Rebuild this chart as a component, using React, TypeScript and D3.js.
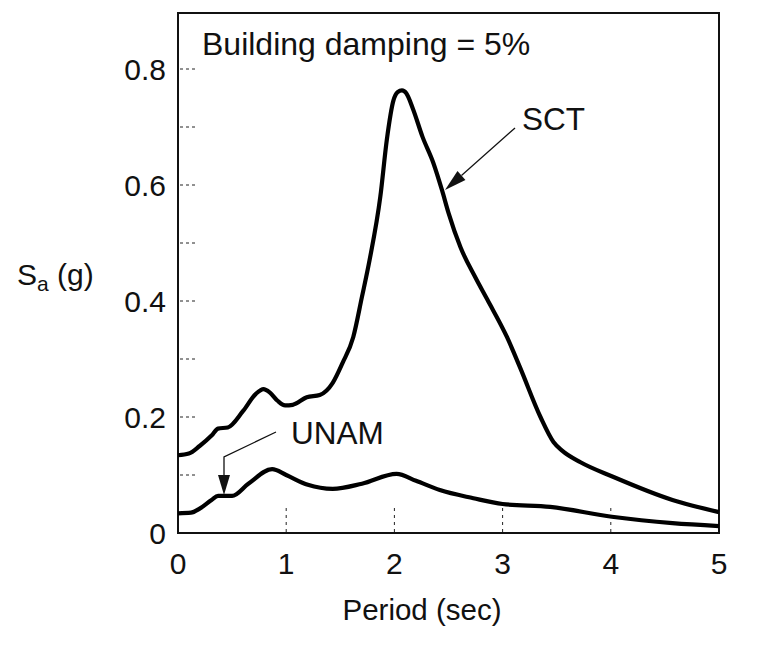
import React from "react";
import * as d3 from "d3";

const sctPeriod = [0, 0.1, 0.2, 0.31, 0.37, 0.46, 0.6, 0.72, 0.79, 0.85, 0.92, 0.99, 1.06, 1.19, 1.31, 1.43, 1.52, 1.62, 1.7, 1.77, 1.87, 1.93, 1.99, 2.03, 2.07, 2.11, 2.17, 2.26, 2.36, 2.44, 2.5, 2.61, 2.75, 2.86, 3.04, 3.16, 3.35, 3.47, 3.55, 3.72, 4.02, 4.57, 5];
const sctSa = [0.134, 0.137, 0.15, 0.168, 0.18, 0.182, 0.21, 0.24, 0.248, 0.242, 0.228, 0.22, 0.221, 0.234, 0.238, 0.259, 0.293, 0.338, 0.407, 0.47, 0.58, 0.678, 0.745, 0.76, 0.763, 0.758, 0.732, 0.683, 0.638, 0.591, 0.552, 0.493, 0.44, 0.402, 0.338, 0.286, 0.2, 0.157, 0.142, 0.122, 0.097, 0.057, 0.036];

const unamPeriod = [0, 0.12, 0.2, 0.31, 0.37, 0.5, 0.65, 0.87, 1.0, 1.2, 1.43, 1.7, 2.02, 2.2, 2.42, 2.73, 3.0, 3.44, 4.01, 4.57, 5];
const unamSa = [0.034, 0.035, 0.042, 0.057, 0.064, 0.064, 0.085, 0.11, 0.1, 0.083, 0.076, 0.085, 0.102, 0.09, 0.074, 0.06, 0.05, 0.045, 0.028, 0.017, 0.012];

const xTicks = [0, 1, 2, 3, 4, 5];
const xInnerTicks = [1, 2, 3, 4];
const yTicks = [0, 0.2, 0.4, 0.6, 0.8];
const yMinorTicks = [0.1, 0.2, 0.3, 0.4, 0.5, 0.6, 0.7, 0.8];

const FONT = "'Liberation Sans', Arial, Helvetica, sans-serif";

export default function App() {
  const left = 178, right = 719, top = 13, bottom = 533;
  const x = d3.scaleLinear().domain([0, 5]).range([left, right]);
  const y = d3.scaleLinear().domain([0, 0.8]).range([bottom, 69]);

  const line = d3
    .line<[number, number]>()
    .x((d) => x(d[0]))
    .y((d) => y(d[1]))
    .curve(d3.curveMonotoneX);

  const sct: [number, number][] = sctPeriod.map((p, i) => [p, sctSa[i]]);
  const unam: [number, number][] = unamPeriod.map((p, i) => [p, unamSa[i]]);

  // SCT arrow
  const sx1 = 515, sy1 = 128, sx2 = 445, sy2 = 190;
  const ang = Math.atan2(sy2 - sy1, sx2 - sx1);
  const hl = 22, hw = 6;
  const bx = sx2 - hl * Math.cos(ang), by = sy2 - hl * Math.sin(ang);
  const px = -Math.sin(ang) * hw, py = Math.cos(ang) * hw;

  return (
    <svg
      width={762}
      height={651}
      style={{ position: "absolute", left: 0, top: 0, background: "#fff" }}
      fontFamily={FONT}
    >
      <rect x={0} y={0} width={762} height={651} fill="#fff" />
      {/* frame */}
      <rect x={left} y={top} width={right - left} height={bottom - top} fill="none" stroke="#111" strokeWidth={2} />

      {/* y minor dashed ticks */}
      {yMinorTicks.map((t) => (
        <line key={"ym" + t} x1={left + 2} x2={left + 20} y1={y(t)} y2={y(t)} stroke="#222" strokeWidth={1} strokeDasharray="3,3" />
      ))}
      {/* x dashed ticks */}
      {xInnerTicks.map((t) => (
        <line key={"xm" + t} x1={x(t)} x2={x(t)} y1={bottom - 1} y2={bottom - 26} stroke="#222" strokeWidth={1} strokeDasharray="3,4" />
      ))}

      {/* y tick labels */}
      {yTicks.map((t) => (
        <text key={"yl" + t} x={166} y={y(t)} dy="0.36em" textAnchor="end" fontSize={30} fill="#111">
          {t === 0 ? "0" : t.toFixed(1)}
        </text>
      ))}
      {/* x tick labels */}
      {xTicks.map((t) => (
        <text key={"xl" + t} x={x(t)} y={574} textAnchor="middle" fontSize={30} fill="#111">
          {t}
        </text>
      ))}

      {/* axis titles */}
      <text x={422} y={620} textAnchor="middle" fontSize={29.5} fill="#111">Period (sec)</text>
      <text x={17} y={285} fontSize={30} fill="#111">
        S<tspan fontSize={21} dy={6}>a</tspan>
        <tspan dy={-6}> (g)</tspan>
      </text>

      {/* title */}
      <text x={202} y={55} fontSize={32} fill="#111">Building damping = 5%</text>

      {/* curves */}
      <path d={line(sct) || ""} fill="none" stroke="#000" strokeWidth={4.2} strokeLinejoin="round" />
      <path d={line(unam) || ""} fill="none" stroke="#000" strokeWidth={4.2} strokeLinejoin="round" />

      {/* SCT annotation */}
      <text x={522} y={130} fontSize={31.5} fill="#111">SCT</text>
      <line x1={sx1} y1={sy1} x2={bx} y2={by} stroke="#111" strokeWidth={1.3} />
      <polygon points={`${sx2},${sy2} ${bx + px},${by + py} ${bx - px},${by - py}`} fill="#111" />

      {/* UNAM annotation */}
      <text x={291} y={444} fontSize={31.5} fill="#111">UNAM</text>
      <polyline points="276,432 224,457 224,476" fill="none" stroke="#111" strokeWidth={1.3} />
      <polygon points="224,495 218,475 230,475" fill="#111" />
    </svg>
  );
}
